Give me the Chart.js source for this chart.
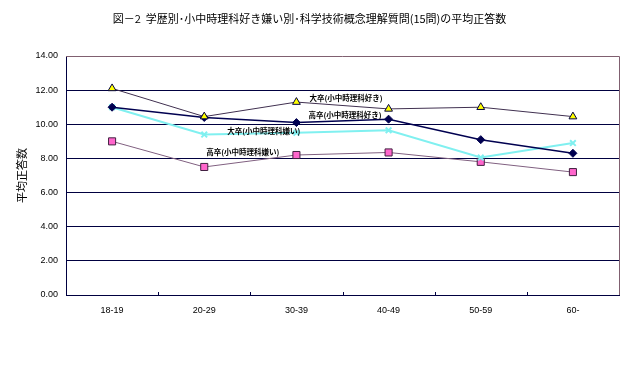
<!DOCTYPE html>
<html><head><meta charset="utf-8">
<script src="https://cdn.jsdelivr.net/npm/chart.js@4/dist/chart.umd.min.js"></script>
<style>html,body{margin:0;padding:0;background:#fff}#wrap{width:634px;height:379px}</style>
</head><body><div id="wrap"><canvas id="c" width="634" height="379"></canvas></div>
<script>
const titleText = '図－2  学歴別･小中時理科好き嫌い別･科学技術概念理解質問(15問)の平均正答数';
const yTitle = '平均正答数';
const categories = ['18-19', '20-29', '30-39', '40-49', '50-59', '60-'];
const seriesNames = ['大卒(小中時理科好き)', '高卒(小中時理科好き)', '大卒(小中時理科嫌い)', '高卒(小中時理科嫌い)'];
const daisotsuSuki = [12.1, 10.45, 11.3, 10.9, 11.0, 10.45];
const kousotsuSuki = [11.0, 10.4, 10.1, 10.3, 9.1, 8.3];
const daisotsuKirai = [11.0, 9.4, 9.5, 9.65, 8.05, 8.9];
const kousotsuKirai = [9.0, 7.5, 8.2, 8.35, 7.8, 7.2];
const yTicks = [0, 2, 4, 6, 8, 10, 12, 14];

// label anchors: [data index, dx, dy] (style)
const labelAnchors = [[3, -6, -11], [3, -7, -4], [2, 4, -2], [2, -17, -3]];

const NAVY = '#000040';
const MAUVE = '#806070';

const seriesLabels = {
  id: 'seriesLabels',
  afterDatasetsDraw(chart) {
    const ctx = chart.ctx;
    ctx.save();
    ctx.font = 'bold 7.5px "Noto Sans CJK JP"';
    ctx.fillStyle = '#000';
    ctx.textAlign = 'right';
    ctx.textBaseline = 'middle';
    chart.data.datasets.forEach((ds, i) => {
      const [idx, dx, dy] = labelAnchors[i];
      const el = chart.getDatasetMeta(i).data[idx];
      ctx.fillText(ds.label, el.x + dx, el.y + dy);
    });
    ctx.restore();
  }
};

const frame = {
  id: 'frame',
  beforeDatasetsDraw(chart) {
    const ctx = chart.ctx, a = chart.chartArea;
    ctx.save();
    ctx.strokeStyle = MAUVE; ctx.lineWidth = 1;
    ctx.beginPath();
    ctx.moveTo(a.left, a.top + 0.5); ctx.lineTo(a.right + 0.5, a.top + 0.5);
    ctx.lineTo(a.right + 0.5, a.bottom);
    ctx.stroke();
    const xs = chart.scales.x;
    ctx.strokeStyle = NAVY;
    ctx.beginPath();
    for (let k = 1; k < categories.length; k++) {
      const x = Math.round((xs.getPixelForValue(k - 1) + xs.getPixelForValue(k)) / 2) + 0.5;
      ctx.moveTo(x, a.bottom); ctx.lineTo(x, a.bottom - 3);
    }
    ctx.stroke();
    ctx.restore();
  }
};

new Chart(document.getElementById('c'), {
  type: 'line',
  data: {
    labels: categories,
    datasets: [
      { label: seriesNames[0], data: daisotsuSuki, borderColor: '#403050', borderWidth: 1,
        pointStyle: 'triangle', pointRadius: 4.5, pointBackgroundColor: '#ffff00', pointBorderColor: NAVY, pointBorderWidth: 1 },
      { label: seriesNames[1], data: kousotsuSuki, borderColor: '#000050', borderWidth: 1.5,
        pointStyle: 'rectRot', pointRadius: 4, pointBackgroundColor: '#000050', pointBorderColor: '#000050', pointBorderWidth: 1 },
      { label: seriesNames[2], data: daisotsuKirai, borderColor: '#80f0f0', borderWidth: 2,
        pointStyle: 'crossRot', pointRadius: 4, pointBackgroundColor: '#80f0f0', pointBorderColor: '#80f0f0', pointBorderWidth: 2 },
      { label: seriesNames[3], data: kousotsuKirai, borderColor: '#806080', borderWidth: 1,
        pointStyle: 'rect', pointRadius: 5, pointBackgroundColor: '#ff66cc', pointBorderColor: '#402040', pointBorderWidth: 1 }
    ]
  },
  options: {
    responsive: false,
    animation: false,
    layout: { padding: { left: 0, right: 15, top: 0, bottom: 0 } },
    plugins: {
      legend: { display: false },
      tooltip: { enabled: false },
      title: {
        display: true, text: titleText, color: '#000',
        font: { family: '"Noto Sans CJK JP"', size: 11, weight: 'normal', lineHeight: 1.2 },
        padding: { top: 12, bottom: 30.8 }
      }
    },
    scales: {
      x: {
        offset: true,
        grid: { display: false, drawTicks: false },
        border: { display: true, color: NAVY, width: 1 },
        ticks: { color: '#000', font: { family: 'Arial, "Liberation Sans"', size: 9 }, padding: 10, maxRotation: 0 },
        afterFit(s) { s.height = 84; }
      },
      y: {
        min: 0, max: 14,
        afterBuildTicks(s) { s.ticks = yTicks.map(v => ({ value: v })); },
        grid: {
          drawTicks: false,
          color: ctx => (ctx.tick && (ctx.tick.value === 0 || ctx.tick.value === 14)) ? 'rgba(0,0,0,0)' : NAVY,
          lineWidth: 1
        },
        border: { display: true, color: NAVY, width: 1 },
        ticks: { color: '#000', font: { family: 'Arial, "Liberation Sans"', size: 9 }, padding: 8,
          callback: v => Number(v).toFixed(2) },
        title: { display: true, text: yTitle, color: '#000',
          font: { family: '"Noto Sans CJK JP"', size: 11 }, padding: { top: 15, bottom: 0 } },
        afterFit(s) { s.width = 66; }
      }
    }
  },
  plugins: [frame, seriesLabels]
});
</script></body></html>
